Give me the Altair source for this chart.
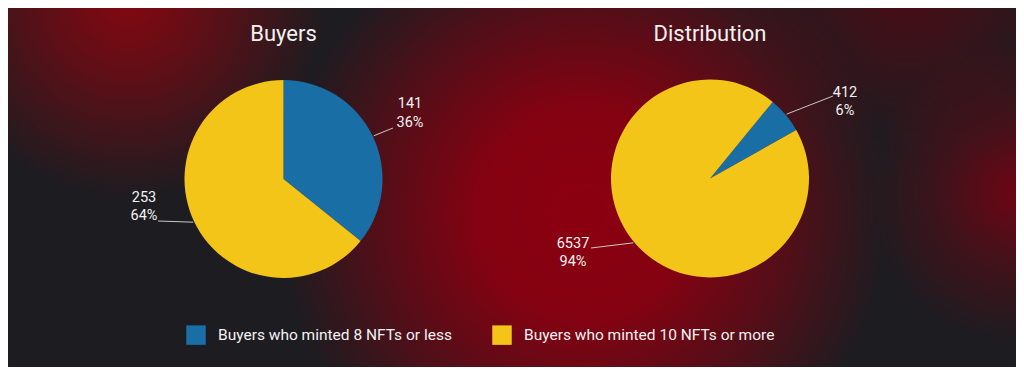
import math
import altair as alt
import pandas as pd

# ---------------- data ----------------
CATEGORIES = ["Buyers who minted 8 NFTs or less", "Buyers who minted 10 NFTs or more"]
PIES = ["Buyers", "Distribution"]
BUYERS = [141, 253]
DISTRIBUTION = [412, 6537]

# ---------------- style / layout ----------------
COLORS = ["#1a6ea6", "#f2c518"]
W, H = 1008, 359
R = 99
FONT = "Roboto"
TXT = "#f2f2f2"
CENTERS = {"Buyers": (275.5, 171.0), "Distribution": (702.0, 170.5)}
START = {"Buyers": 0.0, "Distribution": math.radians(39.3)}
# label placement (relative to pie centre): first-line text centre, leader end
LABEL_TEXT = {("Buyers", 0): (126.5, -75), ("Buyers", 1): (-139.5, 18.5),
              ("Distribution", 0): (135, -86), ("Distribution", 1): (-137, 65)}
LABEL_END = {("Buyers", 0): (109.5, -51), ("Buyers", 1): (-125.5, 42),
             ("Distribution", 0): (123, -82.5), ("Distribution", 1): (-119, 69.5)}
LINE_H = 18.5

VALUES = {"Buyers": BUYERS, "Distribution": DISTRIBUTION}

# ---------------- tables ----------------
slice_rows, line_rows, text_rows = [], [], []
for pie in PIES:
    vals = VALUES[pie]
    total = sum(vals)
    cx, cy = CENTERS[pie]
    cum = 0
    for i, (cat, v) in enumerate(zip(CATEGORIES, vals)):
        slice_rows.append({"pie": pie, "category": cat, "value": v, "order": i})
        mid = START[pie] + 2 * math.pi * (cum + v / 2) / total
        cum += v
        sx, sy = cx + (R + 1) * math.sin(mid), cy - (R + 1) * math.cos(mid)
        ex, ey = cx + LABEL_END[(pie, i)][0], cy + LABEL_END[(pie, i)][1]
        line_rows.append({"x": sx, "y": sy, "x2": ex, "y2": ey})
        tx, ty = cx + LABEL_TEXT[(pie, i)][0], cy + LABEL_TEXT[(pie, i)][1]
        pct = f"{round(v / total * 100)}%"
        text_rows.append({"x": tx, "y": ty, "text": str(v)})
        text_rows.append({"x": tx, "y": ty + LINE_H, "text": pct})

slices = pd.DataFrame(slice_rows)
lines = pd.DataFrame(line_rows)
texts = pd.DataFrame(text_rows)
titles = pd.DataFrame({"title": PIES, "x": [CENTERS[p][0] for p in PIES], "y": [33, 33]})


# ---------------- background blobs ----------------
def blob(cx, cy, r, rgb, stops):
    grad = alt.RadialGradient(
        gradient="radial",
        stops=[alt.GradientStop(color=f"rgba({rgb[0]},{rgb[1]},{rgb[2]},{a})", offset=o) for o, a in stops],
        x1=0.5, y1=0.5, r1=0, x2=0.5, y2=0.5, r2=0.5,
    )
    return alt.Chart(pd.DataFrame({"k": [0]})).mark_rect(fill=grad).encode(
        x=alt.value(cx - r), x2=alt.value(cx + r), y=alt.value(cy - r), y2=alt.value(cy + r)
    )


blobs = [
    blob(575, 205, 305, (140, 0, 16), [(0, 1.0), (0.35, 0.92), (0.7, 0.45), (1, 0)]),
    blob(120, -10, 200, (138, 6, 16), [(0, 0.95), (0.4, 0.6), (1, 0)]),
    blob(1010, 185, 150, (130, 0, 16), [(0, 0.8), (0.5, 0.35), (1, 0)]),
    blob(900, -30, 170, (110, 0, 14), [(0, 0.6), (1, 0)]),
]

# ---------------- pies ----------------
legend = alt.Legend(
    orient="none", legendX=178, legendY=317, direction="horizontal", title=None,
    symbolType="square", symbolSize=380, symbolStrokeWidth=0, symbolOpacity=1,
    labelFont=FONT, labelFontSize=15.5, labelColor=TXT, labelOffset=12,
    columnPadding=40, labelLimit=400,
)


def pie_layer(name):
    cx, cy = CENTERS[name]
    total = sum(VALUES[name])
    return alt.Chart(slices).transform_filter(alt.datum.pie == name).mark_arc(radius=R).encode(
        theta=alt.Theta("value:Q", stack=True,
                        scale=alt.Scale(domain=[0, total], range=[START[name], START[name] + 2 * math.pi])),
        color=alt.Color("category:N", scale=alt.Scale(domain=CATEGORIES, range=COLORS), legend=legend),
        order=alt.Order("order:Q"),
        x=alt.value(cx), y=alt.value(cy),
    )


rules = alt.Chart(lines).mark_rule(color="#c9c9c9", strokeWidth=1).encode(
    x=alt.X("x:Q", scale=None, axis=None), y=alt.Y("y:Q", scale=None, axis=None),
    x2="x2:Q", y2="y2:Q",
)

labels = alt.Chart(texts).mark_text(font=FONT, fontSize=14.5, color=TXT, align="center", baseline="middle").encode(
    x=alt.X("x:Q", scale=None, axis=None), y=alt.Y("y:Q", scale=None, axis=None), text="text:N"
)

title_marks = alt.Chart(titles).mark_text(font=FONT, fontSize=22, color=TXT, align="center",
                                          baseline="alphabetic").encode(
    x=alt.X("x:Q", scale=None, axis=None), y=alt.Y("y:Q", scale=None, axis=None), text="title:N"
)

chart = alt.layer(
    *blobs, pie_layer("Buyers"), pie_layer("Distribution"), rules, labels, title_marks
).resolve_scale(theta="independent").properties(
    width=W, height=H, padding=0, autosize=alt.AutoSizeParams(type="none"), background="#1d1c20"
).configure_view(strokeOpacity=0)

chart.save("out.html", embed_options={"renderer": "svg", "actions": False})
